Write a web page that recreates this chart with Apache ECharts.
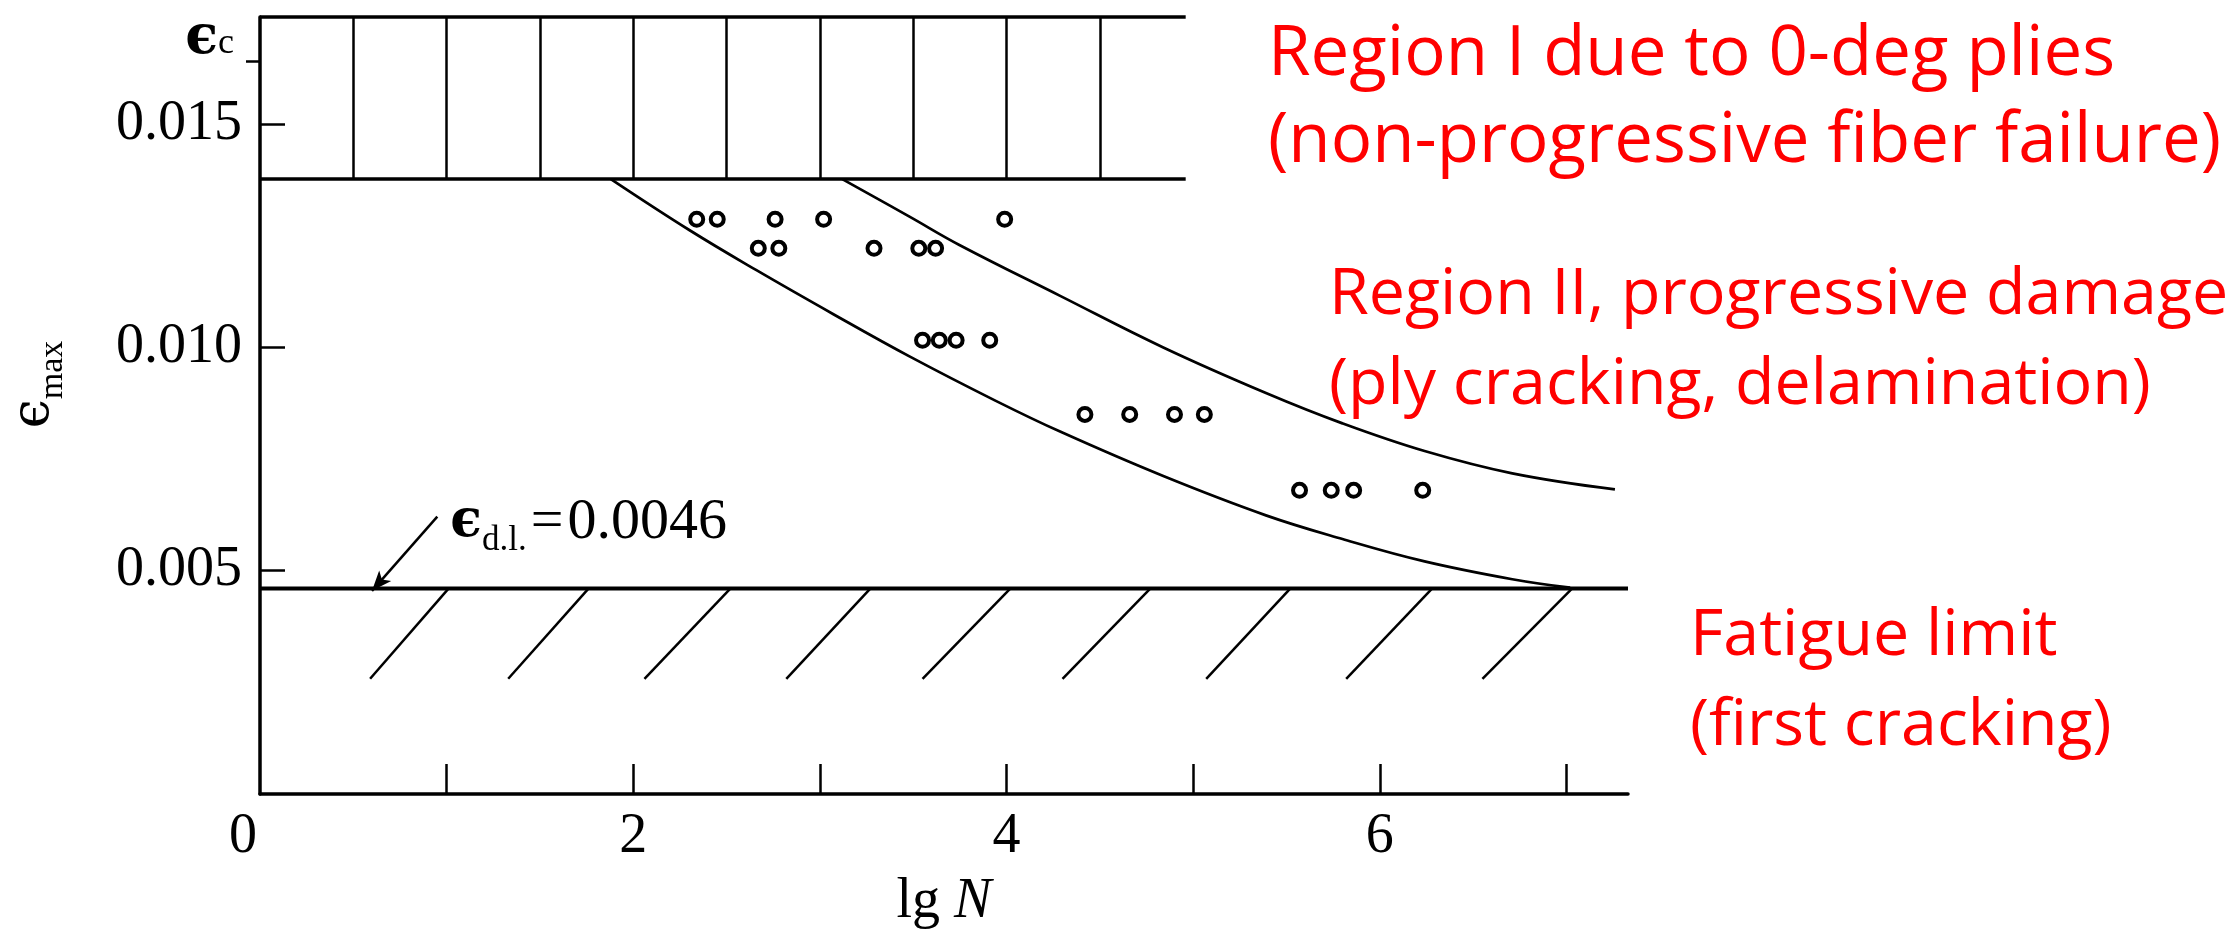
<!DOCTYPE html>
<html>
<head>
<meta charset="utf-8">
<title>Fatigue-life diagram</title>
<script src="https://cdn.jsdelivr.net/npm/echarts@6/dist/echarts.min.js"></script>
<style>
  html, body { margin: 0; padding: 0; background: #ffffff; }
  #chart { width: 2236px; height: 935px; }
</style>
</head>
<body>
<div id="chart"></div>
<script>
// ---- Data -------------------------------------------------------------
// Test results: one strain level per row, lg N of each specimen
const testStrain = [0.01287, 0.01222, 0.01016, 0.00850, 0.00680];
const testLgN = [
  [2.34, 2.45, 2.76, 3.02, 3.99],
  [2.67, 2.78, 3.29, 3.53, 3.62],
  [3.55, 3.64, 3.73, 3.91],
  [4.42, 4.66, 4.90, 5.06],
  [5.57, 5.74, 5.86, 6.23]
];

// Scatter band of region II
const lowerBoundLgN = [1.88, 2.30, 2.66, 3.07, 3.48, 3.94, 4.29, 4.84, 5.39, 5.80, 6.24, 6.71, 7.02];
const lowerBoundStrain = [0.01377, 0.01263, 0.01173, 0.01075, 0.00980, 0.00881, 0.00811, 0.00712, 0.00624, 0.00571, 0.00521, 0.00481, 0.00462];
const upperBoundLgN = [3.12, 3.48, 3.75, 4.29, 4.84, 5.39, 5.80, 6.24, 6.71, 7.26];
const upperBoundStrain = [0.01377, 0.01293, 0.01229, 0.01115, 0.01000, 0.00898, 0.00830, 0.00768, 0.00718, 0.00682];

// Region I (fiber failure) band
const strainTop = 0.0174;
const epsC = 0.0164;
const regionIFloor = 0.01377;
const regionIEnd = 4.96;
const regionIHatch = [0.5, 1.0, 1.5, 2.0, 2.5, 3.0, 3.5, 4.0, 4.5];

// Fatigue limit and its hatching
const fatigueLimit = 0.0046;
const axisEndLgN = 7.33;
const fatigueHatchTop = [1.01, 1.76, 2.52, 3.27, 4.02, 4.77, 5.52, 6.28, 7.03];
const fatigueHatchBottom = [0.59, 1.33, 2.06, 2.82, 3.55, 4.30, 5.07, 5.82, 6.55];
const fatigueHatchDepth = 0.00258;

// Pointer to the fatigue limit line
const limitNoteAnchor = [1.02, 0.00608];
const limitArrowFrom = [0.95, 0.00621];
const limitArrowTo = [0.60, 0.00455];

// Axis ticks and labels
const lgNTicks = [1, 2, 3, 4, 5, 6, 7];
const lgNLabels = [0, 2, 4, 6];
const strainTicks = [0.005, 0.010, 0.015];

// Region notes
const regionNotes = [
  ['Region I due to 0-deg plies', '(non-progressive fiber failure)'],
  ['Region II, progressive damage', '(ply cracking, delamination)'],
  ['Fatigue limit', '(first cracking)']
];

// ---- Styles -----------------------------------------------------------
const INK = '#000000';
const SERIF = '"Liberation Serif", "Times New Roman", serif';
const GREEK = '"DejaVu Serif", serif';
const NOTE_FONT = '"Open Sans", Lato, sans-serif';
const NOTE_RED = '#ff0000';

// epsilon with a subscript, used for the axis name and the notes
const epsRich = {
  e: { fontFamily: GREEK, fontWeight: 'bold', fontSize: 52, color: INK, lineHeight: 72, verticalAlign: 'middle' },
  s: { fontFamily: SERIF, fontSize: 35, color: INK, lineHeight: 34, verticalAlign: 'bottom' },
  q: { fontFamily: SERIF, fontSize: 58, color: INK, lineHeight: 72, verticalAlign: 'middle', padding: [0, 4, 0, 4] },
  v: { fontFamily: SERIF, fontSize: 58, color: INK, lineHeight: 72, verticalAlign: 'middle' }
};
const epsNameRich = {
  e: { fontFamily: GREEK, fontSize: 52, color: INK, lineHeight: 72, verticalAlign: 'middle' },
  s: { fontFamily: SERIF, fontSize: 34, color: INK, lineHeight: 34, verticalAlign: 'bottom' }
};
const epsTickRich = {
  e: { fontFamily: GREEK, fontWeight: 'bold', fontSize: 54, color: INK, lineHeight: 46, verticalAlign: 'middle' },
  s: { fontFamily: SERIF, fontSize: 36, color: INK, lineHeight: 30, verticalAlign: 'bottom' }
};

// ---- Derived series data ----------------------------------------------
const testPoints = [];
testLgN.forEach((row, i) => row.forEach(x => testPoints.push([x, testStrain[i]])));

const lowerBound = lowerBoundLgN.map((x, i) => [x, lowerBoundStrain[i]]);
const upperBound = upperBoundLgN.map((x, i) => [x, upperBoundStrain[i]]);

const regionISegments = [
  { coords: [[0, strainTop], [regionIEnd, strainTop]], lineStyle: { width: 3.5 } },
  { coords: [[0, regionIFloor], [regionIEnd, regionIFloor]], lineStyle: { width: 3.5 } }
].concat(regionIHatch.map(x => ({ coords: [[x, regionIFloor], [x, strainTop]] })));

const fatigueSegments = fatigueHatchTop.map((x, i) => ({
  coords: [[x, fatigueLimit], [fatigueHatchBottom[i], fatigueHatchDepth]]
}));

// ---- Chart ------------------------------------------------------------
const chart = echarts.init(document.getElementById('chart'), null, { renderer: 'canvas' });

// each note block: left edge, line centres, font size
const noteLayout = [
  { x: 1268, y: [55, 142], size: 69 },
  { x: 1329, y: [296, 386], size: 64.5 },
  { x: 1690, y: [637, 727], size: 64.5 }
];
const noteGraphics = [];
regionNotes.forEach((lines, i) => {
  lines.forEach((txt, j) => {
    noteGraphics.push({
      type: 'text',
      x: noteLayout[i].x,
      y: noteLayout[i].y[j],
      silent: true,
      style: {
        text: txt,
        fill: NOTE_RED,
        fontFamily: NOTE_FONT,
        fontSize: noteLayout[i].size,
        verticalAlign: 'middle',
        align: 'left'
      }
    });
  });
});

chart.setOption({
  animation: false,
  backgroundColor: '#ffffff',
  grid: { left: 257, top: 17, right: 2236 - 1628, bottom: 935 - 808, containLabel: false },
  xAxis: {
    type: 'value',
    min: 0,
    max: axisEndLgN,
    interval: 1,
    axisLine: { show: true, lineStyle: { color: INK, width: 3.5 } },
    axisTick: { show: true, inside: true, length: 30, customValues: lgNTicks, lineStyle: { color: INK, width: 2.5 } },
    axisLabel: {
      customValues: lgNLabels,
      margin: 15,
      fontFamily: SERIF,
      fontSize: 56,
      color: INK,
      formatter: v => (v === 0 ? '{z|0}' : String(v)),
      rich: { z: { fontFamily: SERIF, fontSize: 56, color: INK, padding: [0, 34, 0, 0] } }
    },
    splitLine: { show: false },
    name: '{a|lg }{b|N}',
    nameLocation: 'middle',
    nameGap: 80,
    nameTextStyle: {
      rich: {
        a: { fontFamily: SERIF, fontSize: 56, color: INK },
        b: { fontFamily: SERIF, fontSize: 56, fontStyle: 'italic', color: INK }
      }
    }
  },
  yAxis: [
    {
      type: 'value',
      min: 0,
      max: strainTop,
      position: 'left',
      axisLine: { show: true, lineStyle: { color: INK, width: 3.5 } },
      axisTick: { show: true, inside: true, length: 25, customValues: strainTicks, lineStyle: { color: INK, width: 2.5 } },
      axisLabel: {
        customValues: strainTicks,
        margin: 18,
        fontFamily: SERIF,
        fontSize: 56,
        color: INK,
        formatter: v => v.toFixed(3)
      },
      splitLine: { show: false },
      name: '{e|ϵ}{s|max}',
      nameLocation: 'middle',
      nameRotate: 90,
      nameGap: 190,
      nameTextStyle: { rich: epsNameRich, padding: [0, 0, 0, 42] }
    },
    {
      type: 'value',
      min: 0,
      max: strainTop,
      position: 'left',
      offset: 0,
      axisLine: { show: false },
      axisTick: { show: true, inside: false, length: 14, customValues: [epsC], lineStyle: { color: INK, width: 2.5 } },
      axisLabel: {
        customValues: [epsC],
        margin: 26,
        verticalAlign: 'bottom',
        formatter: () => '{e|ϵ}{s|c}',
        rich: epsTickRich
      },
      splitLine: { show: false }
    }
  ],
  graphic: noteGraphics,
  series: [
    {
      name: 'Region I',
      type: 'lines',
      coordinateSystem: 'cartesian2d',
      yAxisIndex: 0,
      polyline: false,
      clip: false,
      silent: true,
      lineStyle: { color: INK, width: 2.5, opacity: 1 },
      data: regionISegments
    },
    {
      name: 'Fatigue limit',
      type: 'line',
      yAxisIndex: 0,
      clip: false,
      silent: true,
      showSymbol: false,
      lineStyle: { color: INK, width: 4 },
      data: [[0, fatigueLimit], [axisEndLgN, fatigueLimit]]
    },
    {
      name: 'Fatigue limit hatching',
      type: 'lines',
      coordinateSystem: 'cartesian2d',
      yAxisIndex: 0,
      polyline: false,
      clip: false,
      silent: true,
      lineStyle: { color: INK, width: 2.5, opacity: 1 },
      data: fatigueSegments
    },
    {
      name: 'Lower bound',
      type: 'line',
      yAxisIndex: 0,
      smooth: 0.4,
      showSymbol: false,
      silent: true,
      lineStyle: { color: INK, width: 2.7 },
      data: lowerBound
    },
    {
      name: 'Upper bound',
      type: 'line',
      yAxisIndex: 0,
      smooth: 0.4,
      showSymbol: false,
      silent: true,
      lineStyle: { color: INK, width: 2.7 },
      data: upperBound
    },
    {
      name: 'Tests',
      type: 'scatter',
      yAxisIndex: 0,
      symbol: 'circle',
      symbolSize: 13,
      silent: true,
      itemStyle: { color: '#ffffff', borderColor: INK, borderWidth: 4, opacity: 1 },
      data: testPoints
    },
    {
      name: 'Limit note',
      type: 'scatter',
      yAxisIndex: 0,
      symbolSize: 0,
      silent: true,
      itemStyle: { opacity: 1 },
      label: {
        show: true,
        position: 'right',
        distance: 0,
        color: INK,
        opacity: 1,
        formatter: '{e|ϵ}{s|d.l.}{q|=}{v|0.0046}',
        rich: epsRich
      },
      data: [limitNoteAnchor],
      markLine: {
        silent: true,
        symbol: ['none', 'arrow'],
        symbolSize: [12, 20],
        label: { show: false },
        lineStyle: { color: INK, width: 2.5, type: 'solid', opacity: 1 },
        data: [[{ coord: limitArrowFrom }, { coord: limitArrowTo }]]
      }
    }
  ]
});
</script>
</body>
</html>
